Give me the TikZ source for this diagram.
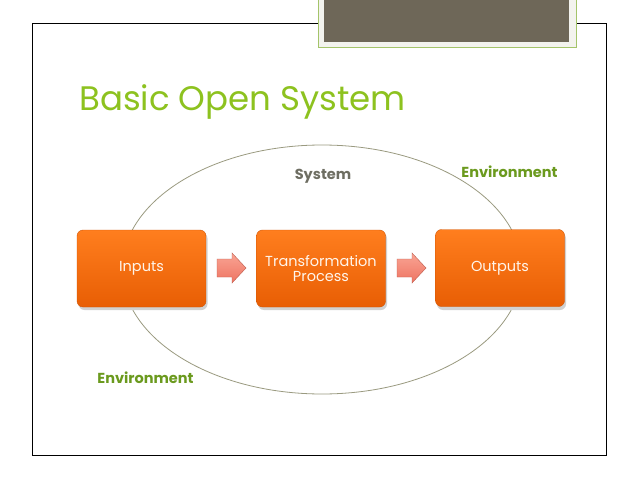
\documentclass[tikz,border=0pt]{standalone}
\usepackage{fontspec}
\setmainfont{Poppins}
\definecolor{titlegreen}{HTML}{8DC21F}
\definecolor{envgreen}{HTML}{6B9A1E}
\definecolor{sysgray}{HTML}{6E6E62}
\definecolor{boxtop}{HTML}{FF7E1E}
\definecolor{boxbot}{HTML}{E85E04}
\definecolor{arrtop}{HTML}{F9A494}
\definecolor{arrbot}{HTML}{EE7462}
\definecolor{hdrdark}{HTML}{6E6758}
\definecolor{hdrlight}{HTML}{F3F3EE}
\definecolor{hdrborder}{HTML}{A4C46A}
\definecolor{ellcol}{HTML}{9A9A80}
\tikzset{
  procbox/.style={rounded corners=6pt, top color=boxtop, bottom color=boxbot,
    draw=boxbot!90!black, line width=0.4pt, minimum width=129pt, minimum height=77pt,
    text=white!92!orange, font=\fontsize{14.5}{15.5}\selectfont, align=center, inner sep=0pt},
  flowarrow/.style={top color=arrtop, bottom color=arrbot, draw=arrbot!80!black, line width=0.4pt},
  envlabel/.style={text=envgreen, font=\bfseries\fontsize{14.5}{16}\selectfont},
}
\begin{document}
\begin{tikzpicture}[x=1pt,y=-1pt]
\useasboundingbox (0,0) rectangle (638,479);
\fill[white] (0,0) rectangle (638,479);
% frame
\draw[line width=1pt] (32,23) rectangle (606,455);
% header box
\fill[hdrlight, draw=hdrborder, line width=1pt] (318,-2) rectangle (576,47);
\fill[hdrdark] (324,-2) rectangle (569,42);
% title
\node[anchor=base west, text=titlegreen, font=\fontsize{34}{40}\selectfont, inner sep=0pt] (title) at (79,110) {Basic Open System};
% ellipse
\draw[ellcol, line width=0.8pt] (322,269.5) ellipse [x radius=200, y radius=124.5];
% boxes (shadows)
\foreach \cx in {141.5,321,500}{
  \fill[black!18, rounded corners=6pt] (\cx-63,232.5) rectangle (\cx+66,310);
}
\node[procbox] (in) at (141.5,268.5) {Inputs};
\node[procbox] (tp) at (321,268.5) {Transformation\\Process};
\node[procbox] (out) at (500,268) {Outputs};
% arrows
\foreach \x in {217,397}{
  \path[flowarrow] (\x,259) -- (\x+15,259) -- (\x+15,253) -- (\x+29,268) -- (\x+15,283) -- (\x+15,277) -- (\x,277) -- cycle;
}
% labels
\node[text=sysgray, font=\bfseries\fontsize{14.5}{16}\selectfont] (sys) at (323,176) {System};
\node[envlabel] (env1) at (509.5,172) {Environment};
\node[envlabel] (env2) at (145.5,378) {Environment};
\end{tikzpicture}
\end{document}
